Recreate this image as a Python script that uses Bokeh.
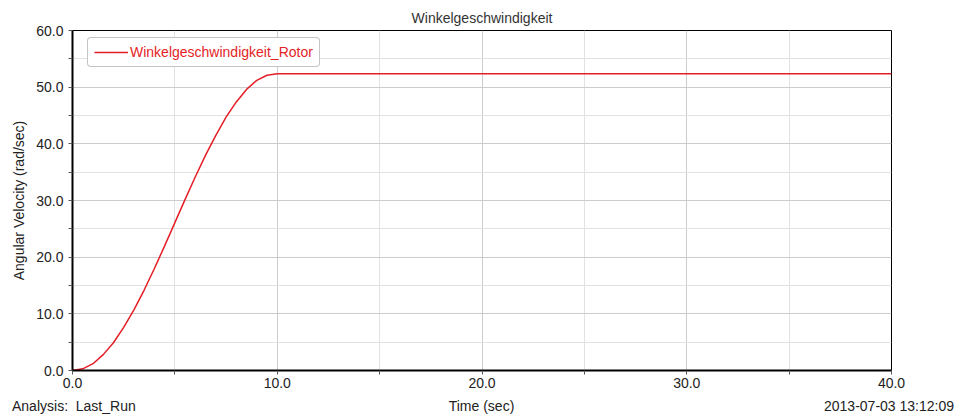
from bokeh.plotting import figure
from bokeh.layouts import column
from bokeh.models import (ColumnDataSource, FixedTicker, NumeralTickFormatter, Range1d, Div)
from bokeh.embed import file_html
from bokeh.resources import INLINE

# ---- data ----
time_sec = [0.0, 0.5, 1.0, 1.5, 2.0, 2.5, 3.0, 3.5, 4.0, 4.5, 5.0, 5.5, 6.0, 6.5,
            7.0, 7.5, 8.0, 8.5, 9.0, 9.5, 10.0, 40.0]
omega_rotor = [0.0, 0.3, 1.2, 2.8, 4.9, 7.6, 10.7, 14.2, 18.0, 22.0, 26.1, 30.2, 34.2, 38.0,
               41.5, 44.7, 47.4, 49.6, 51.2, 52.1, 52.36, 52.36]
series_name = "Winkelgeschwindigkeit_Rotor"
chart_title = "Winkelgeschwindigkeit"
x_label = "Time (sec)"
y_label = "Angular Velocity (rad/sec)"
analysis_text = "Analysis:&nbsp; Last_Run"
date_text = "2013-07-03 13:12:09"
x_major = [0, 10, 20, 30, 40]
x_minor = [5, 15, 25, 35]
y_major = [0, 10, 20, 30, 40, 50, 60]
y_minor = [5, 15, 25, 35, 45, 55]

FONT = "Liberation Sans"
TXT = "#222222"
FS = "14px"

W = 956
H_MAIN = 396
H_FOOT = 18
BL, BR, BT, BB = 72, 65, 30, 26

p = figure(width=W, height=H_MAIN, output_backend="svg", toolbar_location=None,
           x_range=Range1d(0, 40), y_range=Range1d(0, 60),
           min_border_left=BL, min_border_right=BR, min_border_top=BT, min_border_bottom=BB)

src = ColumnDataSource(dict(t=time_sec, w=omega_rotor))
p.line("t", "w", source=src, line_color="#e41e26", line_width=1.5, legend_label=series_name)

# title
p.title.text = chart_title
p.title.align = "center"
p.title.text_font = FONT
p.title.text_font_size = FS
p.title.text_font_style = "normal"
p.title.text_color = "#333333"

# axes
p.xaxis.ticker = FixedTicker(ticks=x_major, minor_ticks=x_minor)
p.yaxis.ticker = FixedTicker(ticks=y_major, minor_ticks=y_minor)
for ax in (p.xaxis, p.yaxis):
    ax.formatter = NumeralTickFormatter(format="0.0")
    ax.axis_line_color = "black"
    ax.axis_line_width = 2
    ax.major_tick_in = 0
    ax.major_tick_out = 4
    ax.minor_tick_in = 0
    ax.minor_tick_out = 4
    ax.major_tick_line_color = "#555555"
    ax.minor_tick_line_color = "#555555"
    ax.major_label_text_font = FONT
    ax.major_label_text_font_size = FS
    ax.major_label_text_color = TXT
p.xaxis.major_label_standoff = 3
p.yaxis.major_label_standoff = 5

p.yaxis.axis_label = y_label
p.yaxis.axis_label_text_font = FONT
p.yaxis.axis_label_text_font_size = FS
p.yaxis.axis_label_text_font_style = "normal"
p.yaxis.axis_label_text_color = TXT
p.yaxis.axis_label_standoff = 6

# grid
for g in (p.xgrid, p.ygrid):
    g.grid_line_color = "#cccccc"
    g.grid_line_width = 1
    g.minor_grid_line_color = "#e2e2e2"
    g.minor_grid_line_width = 1

p.outline_line_color = "black"
p.outline_line_width = 1
p.background_fill_color = "white"
p.border_fill_color = "white"

# legend
lg = p.legend[0]
lg.location = (15, 303)
lg.label_text_font = FONT
lg.label_text_font_size = FS
lg.label_text_color = "#e41e26"
lg.glyph_width = 34
lg.glyph_height = 12
lg.label_height = 12
lg.label_standoff = 2
lg.padding = 6
lg.margin = 0
lg.border_line_color = "#8a8a8a"
lg.border_line_width = 1.5
lg.background_fill_alpha = 1.0
try:
    lg.border_radius = 4
except Exception:
    pass

# footer line with the three bottom texts
frame_mid = BL + (W - BL - BR) / 2
span = (f"position:absolute;top:0;line-height:20px;white-space:nowrap;"
        f"font-family:'{FONT}';font-size:{FS};color:{TXT};")
footer_html = (
    f'<div style="position:relative;width:{W}px;height:{H_FOOT}px;overflow:visible;">'
    f'<span style="{span}left:12px;">{analysis_text}</span>'
    f'<span style="{span}left:{frame_mid}px;transform:translateX(-50%);">{x_label}</span>'
    f'<span style="{span}right:{W - 954}px;">{date_text}</span>'
    f'</div>'
)
foot = Div(text=footer_html, width=W, height=H_FOOT, margin=(0, 0, 0, 0))

layout = column(p, foot, spacing=0)
open("out.html", "w").write(file_html(layout, INLINE))
